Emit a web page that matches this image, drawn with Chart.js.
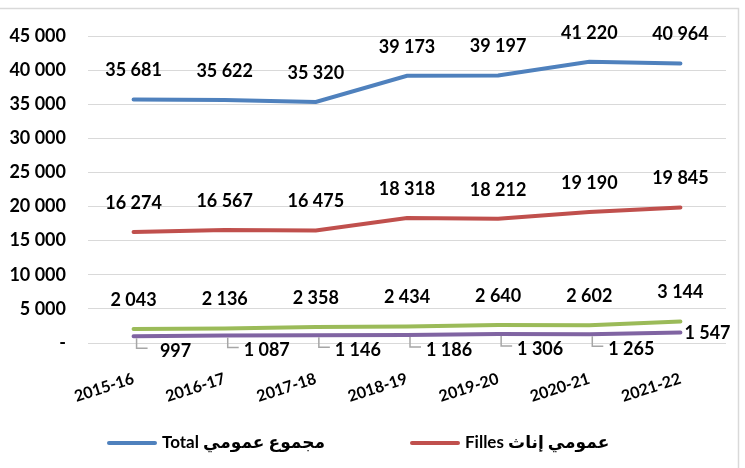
<!DOCTYPE html>
<html>
<head>
<meta charset="utf-8">
<script src="https://cdn.jsdelivr.net/npm/chart.js@4"></script>
<style>
  html, body { margin: 0; padding: 0; background: #fff; }
  #wrap { width: 745px; height: 468px; position: relative; }
</style>
</head>
<body>
<div id="wrap"><canvas id="chart" width="745" height="468"></canvas></div>
<script>
const years = ['2015-16', '2016-17', '2017-18', '2018-19', '2019-20', '2020-21', '2021-22'];
const totalValues = [35681, 35622, 35320, 39173, 39197, 41220, 40964];
const fillesValues = [16274, 16567, 16475, 18318, 18212, 19190, 19845];
const series3Values = [2043, 2136, 2358, 2434, 2640, 2602, 3144];
const series4Values = [997, 1087, 1146, 1186, 1306, 1265, 1547];
const seriesNames = ['Total مجموع عمومي', 'Filles عمومي إناث', 'Série 3', 'Série 4'];
const seriesColors = ['#4F81BD', '#C0504D', '#9BBB59', '#8064A2'];

const FONT = 'Lato, "DejaVu Sans", sans-serif';

function fmt(v) {
    if (v === 0) return '-';
    return String(v).replace(/\B(?=(\d{3})+(?!\d))/g, ' ');
}

// value labels: above the line, except the last series which gets labels below with leader lines
const valueLabels = {
    id: 'valueLabels',
    afterDatasetsDraw(chart) {
        const ctx = chart.ctx;
        ctx.save();
        ctx.font = 'bold 18px ' + FONT;
        ctx.fillStyle = '#000';
        chart.data.datasets.forEach((ds, i) => {
            const meta = chart.getDatasetMeta(i);
            meta.data.forEach((pt, j) => {
                const txt = fmt(ds.data[j]);
                if (!ds.labelBelow) {
                    ctx.textAlign = 'center';
                    ctx.textBaseline = 'middle';
                    ctx.fillText(txt, pt.x, pt.y - 29);
                    return;
                }
                if (j === meta.data.length - 1) {
                    ctx.textAlign = 'left';
                    ctx.textBaseline = 'middle';
                    ctx.fillText(txt, pt.x + 4, pt.y + 1);
                    return;
                }
                ctx.strokeStyle = '#A6A6A6';
                ctx.lineWidth = 1.5;
                ctx.beginPath();
                ctx.moveTo(pt.x + 3, pt.y + 2);
                ctx.lineTo(pt.x + 3, pt.y + 12);
                ctx.lineTo(pt.x + 14, pt.y + 12);
                ctx.stroke();
                ctx.textAlign = 'center';
                ctx.textBaseline = 'middle';
                ctx.fillText(txt, pt.x + 42, pt.y + 15);
            });
        });
        ctx.restore();
    }
};

// legend only lists the first two series, plus the outer frame
const legendAndFrame = {
    id: 'legendAndFrame',
    afterDraw(chart) {
        const ctx = chart.ctx;
        ctx.save();
        ctx.strokeStyle = '#D9D9D9';
        ctx.lineWidth = 1.5;
        ctx.beginPath();
        ctx.moveTo(0, 8.5);
        ctx.lineTo(738.5, 8.5);
        ctx.lineTo(738.5, 468);
        ctx.stroke();

        const slots = [107, 410];
        ctx.font = 'bold 17px ' + FONT;
        ctx.fillStyle = '#000';
        ctx.textAlign = 'left';
        ctx.textBaseline = 'middle';
        ctx.lineCap = 'round';
        chart.data.datasets.forEach((ds, i) => {
            if (!ds.inLegend) return;
            const x = slots[i];
            const y = 443;
            ctx.strokeStyle = ds.borderColor;
            ctx.lineWidth = 4;
            ctx.beginPath();
            ctx.moveTo(x + 2, y);
            ctx.lineTo(x + 48, y);
            ctx.stroke();
            ctx.fillText(ds.label, x + 55, y);
        });
        ctx.restore();
    }
};

const dataSeries = [totalValues, fillesValues, series3Values, series4Values];

new Chart(document.getElementById('chart'), {
    type: 'line',
    data: {
        labels: years,
        datasets: dataSeries.map((vals, i) => ({
            label: seriesNames[i],
            data: vals,
            borderColor: seriesColors[i],
            backgroundColor: seriesColors[i],
            borderWidth: 4,
            borderCapStyle: 'round',
            pointRadius: 0,
            tension: 0,
            inLegend: i < 2,
            labelBelow: i === 3
        }))
    },
    options: {
        responsive: false,
        animation: false,
        layout: { padding: { top: 36, right: 19, left: 0, bottom: 0 } },
        plugins: {
            legend: { display: false },
            tooltip: { enabled: false }
        },
        scales: {
            x: {
                offset: true,
                grid: { display: false },
                border: { display: false },
                ticks: {
                    color: '#000',
                    font: { family: FONT, size: 16, weight: 'bold' },
                    minRotation: 18,
                    maxRotation: 18,
                    padding: 18
                },
                afterFit(s) { s.height = 125; }
            },
            y: {
                min: 0,
                max: 45000,
                grid: { color: '#D9D9D9', drawTicks: false },
                border: { display: false },
                ticks: {
                    stepSize: 5000,
                    color: '#000',
                    font: { family: FONT, size: 18, weight: 'bold' },
                    padding: 22,
                    callback: (v) => fmt(v)
                },
                afterFit(s) { s.width = 88; }
            }
        }
    },
    plugins: [valueLabels, legendAndFrame]
});
</script>
</body>
</html>
